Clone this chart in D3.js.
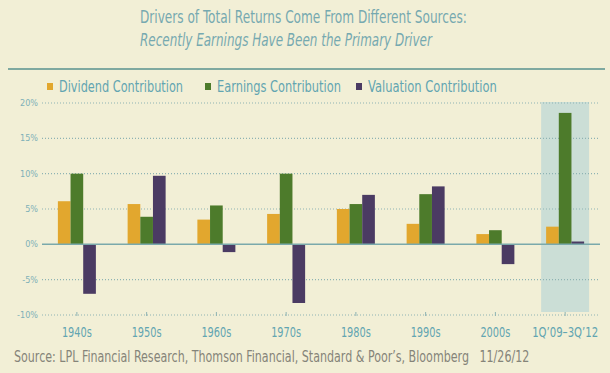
<!DOCTYPE html>
<html>
<head>
<meta charset="utf-8">
<script src="https://cdn.jsdelivr.net/npm/d3@7"></script>
<style>
  body { margin: 0; background: #f2efd6; }
  svg { display: block; }
  text { font-family: "Liberation Sans Narrow", "DejaVu Sans Condensed", sans-serif; }
</style>
</head>
<body>
<div class="chart"></div>
<script>
// categories and values (percent)
var categories = ["1940s", "1950s", "1960s", "1970s", "1980s", "1990s", "2000s", "1Q\u201909\u20133Q\u201912"];
var seriesNames = ["Dividend Contribution", "Earnings Contribution", "Valuation Contribution"];
var dividend  = [6.1, 5.7, 3.5, 4.3, 5.0, 2.9, 1.45, 2.5];
var earnings  = [10.0, 3.9, 5.5, 10.0, 5.7, 7.1, 2.0, 18.6];
var valuation = [-7.0, 9.7, -1.1, -8.3, 7.0, 8.2, -2.8, 0.4];
var yTicks = [20, 15, 10, 5, 0, -5, -10];
var highlighted = "1Q\u201909\u20133Q\u201912";

var colors = ["#e2a72e", "#4d7b2b", "#4b3b63"];
var teal = "#62a5b1";

var W = 610, H = 373;
var svg = d3.select(".chart").append("svg").attr("width", W).attr("height", H);

svg.append("rect").attr("width", W).attr("height", H).attr("fill", "#f2efd6");

// the original uses a very narrow face, so squeeze text horizontally to a target width
function squeezed(parent, x, y, width, anchor) {
    var g = parent.append("g");
    var t = g.append("text").attr("x", 0).attr("y", 0).attr("text-anchor", anchor || "start");
    return {
        text: t,
        fit: function() {
            var w = t.node().getComputedTextLength();
            g.attr("transform", "translate(" + x + "," + y + ") scale(" + (width / w) + ",1)");
            return t;
        }
    };
}

// titles
var t1 = squeezed(svg, 140, 23, 327);
t1.text.attr("font-size", 18).attr("fill", "#76a9b0")
    .text("Drivers of Total Returns Come From Different Sources:");
t1.fit();
var t2 = squeezed(svg, 140, 46, 292);
t2.text.attr("font-size", 18).attr("font-style", "italic").attr("fill", "#76a9b0")
    .text("Recently Earnings Have Been the Primary Driver");
t2.fit();

// divider line
svg.append("line").attr("x1", 8).attr("x2", 605).attr("y1", 69).attr("y2", 69)
    .attr("stroke", "#7fa9a0").attr("stroke-width", 2);

// scales
var x0 = d3.scaleBand().domain(categories).range([42, 600]);
var x1 = d3.scaleBand().domain(seriesNames).range([x0.step() / 2 - 19, x0.step() / 2 + 19]);
var y = d3.scaleLinear().domain([-10, 20]).range([315, 103]);

// highlight band
svg.append("rect")
    .attr("x", x0(highlighted) + x0.step() / 2 - 24)
    .attr("width", 48)
    .attr("y", y(20) - 1)
    .attr("height", y(-10) - y(20) - 2)
    .attr("fill", "#cbded6");

// grid lines
svg.append("g").selectAll("line").data(yTicks.filter(function(d) { return d !== 0; }))
    .enter().append("line")
    .attr("x1", 42).attr("x2", 600)
    .attr("y1", function(d) { return y(d); }).attr("y2", function(d) { return y(d); })
    .attr("stroke", "#8eb3b3").attr("stroke-width", 1.2)
    .attr("stroke-dasharray", "1,2");

// y labels
svg.append("g").selectAll("text").data(yTicks).enter().append("text")
    .attr("x", 38).attr("y", function(d) { return y(d) + 3; })
    .attr("text-anchor", "end").attr("font-size", 9).attr("fill", "#7fb1b8")
    .text(function(d) { return d + "%"; });

// bars
var rows = categories.map(function(c, i) {
    return { cat: c, vals: [dividend[i], earnings[i], valuation[i]] };
});
var groups = svg.append("g").selectAll("g").data(rows).enter().append("g")
    .attr("transform", function(d) { return "translate(" + x0(d.cat) + ",0)"; });
groups.selectAll("rect").data(function(d) {
        return d.vals.map(function(v, j) { return { name: seriesNames[j], v: v, j: j }; });
    })
    .enter().append("rect")
    .attr("x", function(d) { return x1(d.name); })
    .attr("width", x1.bandwidth())
    .attr("y", function(d) { return y(Math.max(0, d.v)); })
    .attr("height", function(d) { return Math.abs(y(d.v) - y(0)); })
    .attr("fill", function(d) { return colors[d.j]; });

// zero line
svg.append("line").attr("x1", 42).attr("x2", 600).attr("y1", y(0)).attr("y2", y(0))
    .attr("stroke", "#7aa9ab").attr("stroke-width", 1.5);

// x ticks + labels
svg.append("g").selectAll("line").data(categories).enter().append("line")
    .attr("x1", function(d) { return x0(d) + x0.step() / 2; })
    .attr("x2", function(d) { return x0(d) + x0.step() / 2; })
    .attr("y1", y(-10) - 3).attr("y2", y(-10) + 1)
    .attr("stroke", "#8eb3b3").attr("stroke-width", 1);
categories.forEach(function(c) {
    var lab = squeezed(svg, x0(c) + x0.step() / 2, 337, c.length > 6 ? 66 : 30, "middle");
    lab.text.attr("font-size", 14.5).attr("fill", teal).text(c);
    lab.fit();
});

// legend
var legX = [47, 205, 356];
var legW = [124, 124, 129];
seriesNames.forEach(function(name, i) {
    svg.append("rect").attr("x", legX[i]).attr("y", 83).attr("width", 6).attr("height", 7)
        .attr("fill", colors[i]);
    var lt = squeezed(svg, legX[i] + 12, 92, legW[i]);
    lt.text.attr("font-size", 15.5).attr("fill", teal).text(name);
    lt.fit();
});

// source
var src = squeezed(svg, 14, 362, 516);
src.text.attr("font-size", 15).attr("fill", "#858479")
    .text("Source: LPL Financial Research, Thomson Financial, Standard & Poor\u2019s, Bloomberg\u00a0\u00a0\u00a011/26/12");
src.fit();
</script>
</body>
</html>
